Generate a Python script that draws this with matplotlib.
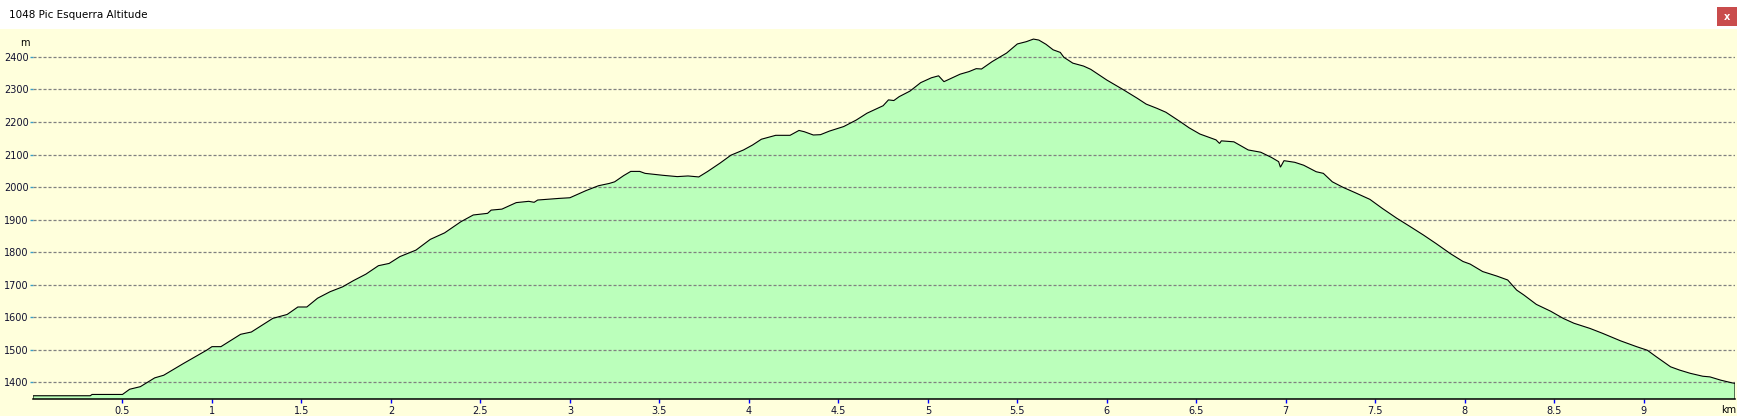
import matplotlib
matplotlib.use("Agg")
import matplotlib.pyplot as plt
from matplotlib.patches import Rectangle

# distance along the track (km) and altitude (m)
km = [0.00, 0.32, 0.33, 0.50, 0.54, 0.60, 0.68, 0.73, 0.84, 0.97,
      1.00, 1.05, 1.16, 1.22, 1.34, 1.42, 1.48, 1.53, 1.59, 1.66,
      1.73, 1.79, 1.86, 1.93, 1.99, 2.05, 2.14, 2.22, 2.30, 2.39,
      2.46, 2.54, 2.56, 2.62, 2.70, 2.77, 2.80, 2.82, 2.94, 3.00,
      3.09, 3.16, 3.22, 3.25, 3.30, 3.34, 3.39, 3.42, 3.47, 3.52,
      3.60, 3.66, 3.72, 3.77, 3.84, 3.90, 3.97, 4.02, 4.07, 4.11,
      4.15, 4.23, 4.28, 4.31, 4.36, 4.40, 4.45, 4.53, 4.60, 4.66,
      4.75, 4.78, 4.81, 4.84, 4.90, 4.96, 5.02, 5.06, 5.09, 5.18,
      5.23, 5.27, 5.30, 5.36, 5.44, 5.50, 5.55, 5.59, 5.62, 5.66,
      5.70, 5.74, 5.76, 5.81, 5.87, 5.91, 6.00, 6.09, 6.17, 6.22,
      6.28, 6.33, 6.41, 6.46, 6.52, 6.55, 6.61, 6.63, 6.64, 6.71,
      6.79, 6.86, 6.92, 6.96, 6.97, 6.99, 7.05, 7.10, 7.17, 7.21,
      7.26, 7.32, 7.39, 7.47, 7.54, 7.62, 7.69, 7.77, 7.84, 7.92,
      7.99, 8.03, 8.10, 8.18, 8.24, 8.29, 8.33, 8.40, 8.48, 8.55,
      8.61, 8.70, 8.77, 8.87, 8.96, 9.02, 9.07, 9.15, 9.20, 9.26,
      9.33, 9.37, 9.43, 9.49, 9.51]
alt = [1358, 1358, 1362, 1362, 1378, 1386, 1413, 1421, 1457, 1498,
       1509, 1509, 1547, 1554, 1596, 1608, 1631, 1631, 1658, 1678,
       1693, 1712, 1732, 1758, 1765, 1786, 1806, 1839, 1859, 1893,
       1914, 1919, 1929, 1932, 1952, 1956, 1953, 1960, 1965, 1967,
       1989, 2004, 2011, 2016, 2035, 2048, 2048, 2042, 2039, 2036,
       2032, 2034, 2031, 2048, 2074, 2098, 2114, 2129, 2147, 2153,
       2159, 2159, 2174, 2170, 2160, 2161, 2172, 2186, 2206, 2227,
       2250, 2268, 2266, 2278, 2295, 2321, 2336, 2342, 2324, 2347,
       2355, 2364, 2363, 2386, 2412, 2440, 2447, 2455, 2452, 2439,
       2422, 2414, 2399, 2381, 2372, 2362, 2329, 2300, 2273, 2255,
       2242, 2230, 2201, 2182, 2163, 2157, 2145, 2134, 2142, 2139,
       2114, 2107, 2091, 2078, 2061, 2081, 2076, 2067, 2047, 2042,
       2016, 1999, 1982, 1962, 1934, 1904, 1880, 1852, 1826, 1795,
       1771, 1763, 1740, 1726, 1714, 1683, 1668, 1639, 1618, 1596,
       1581, 1565, 1550, 1527, 1509, 1498, 1478, 1447, 1437, 1427,
       1418, 1416, 1406, 1398, 1396]

x_ticks = [0.5, 1, 1.5, 2, 2.5, 3, 3.5, 4, 4.5, 5, 5.5, 6, 6.5, 7, 7.5, 8, 8.5, 9]
x_labels = ["0.5", "1", "1.5", "2", "2.5", "3", "3.5", "4", "4.5", "5",
            "5.5", "6", "6.5", "7", "7.5", "8", "8.5", "9"]
y_ticks = [1400, 1500, 1600, 1700, 1800, 1900, 2000, 2100, 2200, 2300, 2400]
title = "1048 Pic Esquerra Altitude"

W, H = 1737, 416
bg = "#FFFFDC"
plt.rcParams["font.family"] = "DejaVu Sans"
plt.rcParams["lines.scale_dashes"] = False

fig = plt.figure(figsize=(W / 100, H / 100), dpi=100, facecolor=bg)

# window title bar
fig.patches.append(Rectangle((0, 1 - 29 / H), 1, 29 / H, transform=fig.transFigure,
                             facecolor="white", edgecolor="none", zorder=0))
fig.text(9 / W, 1 - 15 / H, title, fontsize=7.5, ha="left", va="center")
fig.patches.append(Rectangle((1717 / W, 1 - 26 / H), 20 / W, 19 / H,
                             transform=fig.transFigure, facecolor="#C94C4C",
                             edgecolor="none", zorder=1))
fig.text(1727 / W, 1 - 16.5 / H, "x", color="white", fontsize=7,
         ha="center", va="center", fontweight="bold")

ax = fig.add_axes([33 / W, 17 / H, 1702 / W, 370 / H], facecolor=bg)
ymin, ymax = 1348, 2486
ax.set_xlim(0, 9.51)
ax.set_ylim(ymin, ymax)

ax.fill_between(km, alt, ymin, facecolor="#BBFFBB", edgecolor="none", zorder=1)
ax.plot([km[0]] + km + [km[-1]], [ymin] + alt + [ymin], color="black", lw=0.8,
        zorder=3, solid_joinstyle="miter")

for v in y_ticks:
    ax.axhline(v, color="#808080", lw=0.9, linestyle=(0, (2.2, 1.4)), zorder=2)

for s in ["top", "right", "left"]:
    ax.spines[s].set_visible(False)
ax.spines["bottom"].set_linewidth(1.1)
ax.spines["bottom"].set_zorder(4)

ax.set_xticks(x_ticks)
ax.set_xticklabels(x_labels)
ax.tick_params(axis="x", direction="out", length=3, width=1, color="#0000FF",
               pad=2, labelsize=7, labelcolor="#101030")
ax.set_yticks(y_ticks)
ax.set_yticklabels([str(v) for v in y_ticks])
ax.tick_params(axis="y", direction="out", length=2, width=1, color="#3AA0C8",
               pad=1, labelsize=7, labelcolor="#101030")

fig.text(25 / W, 1 - 43 / H, "m", fontsize=7, ha="center", va="center")
fig.text(1736 / W, 1 - 410 / H, "km", fontsize=7, ha="right", va="center")

fig.savefig("out.png", dpi=100, facecolor=bg)
